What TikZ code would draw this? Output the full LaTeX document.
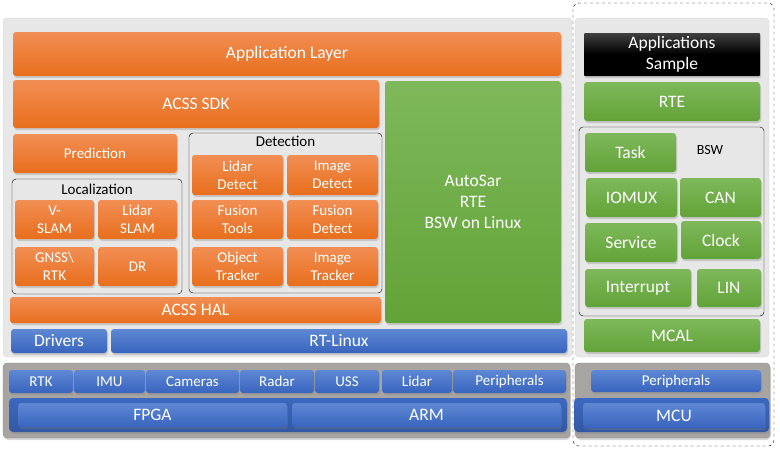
\documentclass[tikz,border=0pt]{standalone}
\usepackage{fontspec}
\setmainfont{Carlito}
\usetikzlibrary{shadows}

\definecolor{orangetop}{RGB}{242,142,84}
\definecolor{orangebot}{RGB}{232,110,28}
\definecolor{greentop}{RGB}{126,184,90}
\definecolor{greenbot}{RGB}{98,163,56}
\definecolor{bluetop}{RGB}{94,136,212}
\definecolor{bluebot}{RGB}{56,100,190}
\definecolor{bandblue}{RGB}{60,104,192}
\definecolor{panelfill}{RGB}{231,231,231}
\definecolor{panelline}{RGB}{214,214,214}
\definecolor{darkpanel}{RGB}{168,164,162}

\tikzset{
  block/.style={rounded corners=3pt, text=white, align=center, inner sep=0pt,
    drop shadow={opacity=0.3, shadow xshift=1pt, shadow yshift=-2pt},
    font=\fontsize{17.5}{21}\selectfont},
  orangebox/.style={block, top color=orangetop, bottom color=orangebot},
  greenbox/.style={block, top color=greentop, bottom color=greenbot},
  bluebox/.style={block, top color=bluetop, bottom color=bluebot},
  bandbox/.style={block, rounded corners=4pt, top color=bandblue, bottom color=bandblue!85!black},
  blackbox/.style={block, rounded corners=1pt, top color=black!75, bottom color=black, middle color=black},
  smalltext/.style={font=\fontsize{15}{17.7}\selectfont},
  groupbox/.style={draw=black, rounded corners=4pt, thin, inner sep=0pt},
  panel/.style={rounded corners=4pt, fill=panelfill, draw=panelline, inner sep=0pt},
  darkpanelbox/.style={rounded corners=4pt, fill=darkpanel, draw=darkpanel!85!black, inner sep=0pt,
    drop shadow={opacity=0.3, shadow xshift=1pt, shadow yshift=-2pt}},
}

\begin{document}
\begin{tikzpicture}[x=1pt, y=-1pt]
  \useasboundingbox (0,0) rectangle (780,451);

  % panels
  \node[panel, minimum width=569, minimum height=339] (linuxpanel) at (287.5,187.5) {};
  \node[darkpanelbox, minimum width=567, minimum height=75] (socpanel) at (286.5,400.5) {};
  \node[panel, minimum width=194, minimum height=339] (mcupanel) at (672,187.5) {};
  \node[darkpanelbox, minimum width=195, minimum height=75] (hwpanel) at (672.5,400.5) {};
  \draw[dashed, rounded corners=6pt] (573,3) rectangle (774,446);

  % linux side
  \node[orangebox, minimum width=548, minimum height=44] (applayer) at (287,54) {Application Layer};
  \node[orangebox, minimum width=366, minimum height=48] (sdk) at (196,104) {ACSS SDK};
  \node[greenbox, minimum width=176, minimum height=242] (autosar) at (473,202) {AutoSar\\RTE\\BSW on Linux};
  \node[orangebox, smalltext, minimum width=164, minimum height=39] (prediction) at (95,153.5) {Prediction};

  \node[groupbox, minimum width=193, minimum height=160] (detection) at (285.5,213) {};
  \node[smalltext, anchor=north] (detlabel) at (detection.north) {Detection};
  \node[orangebox, smalltext, minimum width=91, minimum height=40] (lidardet) at (237.5,175) {Lidar\\Detect};
  \node[orangebox, smalltext, minimum width=91, minimum height=40] (imagedet) at (332.5,175) {Image\\Detect};
  \node[orangebox, smalltext, minimum width=91, minimum height=39] (fusiontools) at (237.5,219.5) {Fusion\\Tools};
  \node[orangebox, smalltext, minimum width=91, minimum height=39] (fusiondet) at (332.5,219.5) {Fusion\\Detect};
  \node[orangebox, smalltext, minimum width=91, minimum height=39] (objtracker) at (237.5,266.5) {Object\\Tracker};
  \node[orangebox, smalltext, minimum width=91, minimum height=39] (imgtracker) at (332.5,266.5) {Image\\Tracker};

  \node[groupbox, minimum width=170, minimum height=115] (localization) at (97,236.5) {};
  \node[smalltext, anchor=north] (loclabel) at ([yshift=-2pt]localization.north) {Localization};
  \node[orangebox, smalltext, minimum width=79, minimum height=39] (vslam) at (54.5,219.5) {V-\\SLAM};
  \node[orangebox, smalltext, minimum width=79, minimum height=39] (lidarslam) at (137.5,219.5) {Lidar\\SLAM};
  \node[orangebox, smalltext, minimum width=79, minimum height=39] (gnss) at (54.5,266.5) {GNSS\textbackslash\\RTK};
  \node[orangebox, smalltext, minimum width=79, minimum height=39] (dr) at (137.5,266.5) {DR};

  \node[orangebox, minimum width=371, minimum height=26] (hal) at (195.5,310) {ACSS HAL};
  \node[bluebox, minimum width=96, minimum height=24] (drivers) at (59,341) {Drivers};
  \node[bluebox, minimum width=456, minimum height=24] (rtlinux) at (339,341) {RT-Linux};

  % soc hardware
  \node[bluebox, smalltext, minimum width=64, minimum height=23] (rtk) at (41,381.5) {RTK};
  \node[bluebox, smalltext, minimum width=71, minimum height=23] (imu) at (109.5,381.5) {IMU};
  \node[bluebox, smalltext, minimum width=93, minimum height=23] (cameras) at (192.5,381.5) {Cameras};
  \node[bluebox, smalltext, minimum width=74, minimum height=23] (radar) at (277,381.5) {Radar};
  \node[bluebox, smalltext, minimum width=64, minimum height=23] (uss) at (347,381.5) {USS};
  \node[bluebox, smalltext, minimum width=70, minimum height=23] (lidar) at (417,381.5) {Lidar};
  \node[bluebox, smalltext, minimum width=113, minimum height=23] (periph) at (509.5,381.5) {Peripherals};
  \node[bandbox, minimum width=558, minimum height=34] (socband) at (288,415) {};
  \node[bluebox, minimum width=269, minimum height=24] (fpga) at (152.5,415) {FPGA};
  \node[bluebox, minimum width=269, minimum height=24] (arm) at (426.5,415) {ARM};

  % mcu side
  \node[blackbox, minimum width=176, minimum height=43] (appsample) at (672,54.5) {Applications\\Sample};
  \node[greenbox, minimum width=176, minimum height=39] (rte) at (672,101.5) {RTE};
  \node[groupbox, minimum width=185, minimum height=189] (bsw) at (671.5,221.5) {};
  \node[font=\fontsize{14}{16}\selectfont] (bswlabel) at (710,150) {BSW};
  \node[greenbox, minimum width=91, minimum height=39] (task) at (630.5,152.5) {Task};
  \node[greenbox, minimum width=91, minimum height=39] (iomux) at (631.5,197.5) {IOMUX};
  \node[greenbox, minimum width=81, minimum height=39] (can) at (720.5,197.5) {CAN};
  \node[greenbox, minimum width=92, minimum height=39] (service) at (631,242.5) {Service};
  \node[greenbox, minimum width=80, minimum height=38] (clock) at (721,240) {Clock};
  \node[greenbox, minimum width=106, minimum height=38] (interrupt) at (638,288) {Interrupt};
  \node[greenbox, minimum width=64, minimum height=38] (lin) at (729,288) {LIN};
  \node[greenbox, minimum width=176, minimum height=33] (mcal) at (672,335.5) {MCAL};

  % mcu hardware
  \node[bluebox, smalltext, minimum width=170, minimum height=22] (mcuperiph) at (676,381) {Peripherals};
  \node[bandbox, minimum width=195, minimum height=34] (mcuband) at (671.5,415) {};
  \node[bluebox, minimum width=182, minimum height=25] (mcu) at (674,415.5) {MCU};
\end{tikzpicture}
\end{document}
